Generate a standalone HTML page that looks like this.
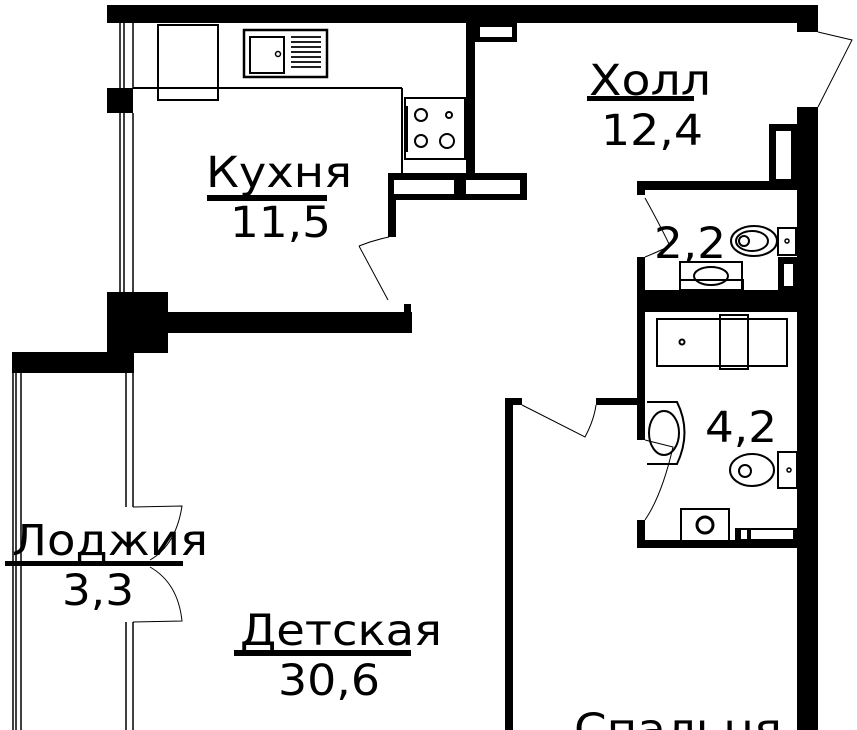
<!DOCTYPE html>
<html><head><meta charset="utf-8"><style>
html,body{margin:0;padding:0;background:#fff;width:857px;height:730px;overflow:hidden}
svg{display:block}
text{font-family:"DejaVu Sans","Liberation Sans",sans-serif;fill:#000}
</style></head><body>
<svg width="857" height="730" viewBox="0 0 857 730" xmlns="http://www.w3.org/2000/svg">
<g fill="#000">
<!-- top wall -->
<rect x="107" y="5" width="711" height="18"/>
<rect x="797" y="5" width="21" height="27"/>
<!-- kitchen left -->
<rect x="107" y="88" width="26" height="25"/>
<rect x="107" y="292" width="61" height="61"/>
<rect x="167" y="312" width="245" height="21"/>
<rect x="12" y="352" width="122" height="21"/>
<!-- kitchen right wall -->
<rect x="466" y="22" width="9" height="160"/>
<rect x="475" y="22" width="42" height="20"/>
<rect x="480" y="27" width="32" height="10" fill="#fff"/>
<rect x="388" y="173" width="139" height="27"/>
<rect x="394" y="180" width="60" height="14" fill="#fff"/>
<rect x="466" y="180" width="54" height="14" fill="#fff"/>
<rect x="388" y="200" width="8" height="37"/>
<rect x="404" y="304" width="7" height="10"/>
<!-- right wall -->
<rect x="797" y="107" width="21" height="623"/>
<rect x="769" y="124" width="28" height="66"/>
<rect x="776" y="131" width="15" height="48" fill="#fff"/>
<!-- WC -->
<rect x="637" y="181" width="160" height="9"/>
<rect x="637" y="181" width="8" height="14"/>
<rect x="637" y="257" width="8" height="55"/>
<rect x="637" y="290" width="160" height="22"/>
<rect x="778" y="257" width="19" height="33"/>
<rect x="784" y="264" width="9" height="22" fill="#fff"/>
<!-- bath -->
<rect x="637" y="312" width="8" height="128"/>
<rect x="637" y="520" width="8" height="28"/>
<rect x="637" y="540" width="160" height="8"/>
<rect x="735" y="528" width="62" height="12"/>
<rect x="741" y="530" width="6" height="9" fill="#fff"/>
<rect x="751" y="530" width="42" height="9" fill="#fff"/>
<!-- bedroom wall -->
<rect x="505" y="398" width="8" height="332"/>
<rect x="505" y="398" width="17" height="7"/>
<rect x="596" y="398" width="41" height="7"/>
</g>
<g fill="none" stroke="#000" stroke-width="1.5">
<!-- kitchen window -->
<line x1="120" y1="23" x2="120" y2="88"/><line x1="124" y1="23" x2="124" y2="88"/><line x1="133" y1="23" x2="133" y2="88"/>
<line x1="120" y1="113" x2="120" y2="292"/><line x1="124" y1="113" x2="124" y2="292"/><line x1="133" y1="113" x2="133" y2="292"/>
<!-- counter -->
<line x1="133" y1="88" x2="402" y2="88" stroke-width="2"/>
<line x1="402" y1="88" x2="402" y2="173" stroke-width="2"/>
<rect x="158" y="25" width="60" height="75" stroke-width="2"/>
<rect x="244" y="30" width="83" height="47" stroke-width="2.5"/>
<rect x="250" y="37" width="34" height="36" stroke-width="2"/>
<g stroke-width="1.8"><line x1="291" y1="37" x2="321" y2="37"/><line x1="291" y1="42" x2="321" y2="42"/><line x1="291" y1="47" x2="321" y2="47"/><line x1="291" y1="52" x2="321" y2="52"/><line x1="291" y1="57" x2="321" y2="57"/><line x1="291" y1="62" x2="321" y2="62"/><line x1="291" y1="67" x2="321" y2="67"/></g>
<circle cx="278" cy="54" r="2.5"/>
<rect x="405" y="98" width="60" height="61" stroke-width="2"/>
<line x1="407" y1="106" x2="407" y2="152" stroke-width="2"/>
<circle cx="421" cy="115" r="6" stroke-width="2"/><circle cx="449" cy="115" r="3" stroke-width="2"/>
<circle cx="421" cy="141" r="6" stroke-width="2"/><circle cx="447" cy="141" r="7" stroke-width="2"/>
<!-- kitchen door -->
<line x1="359" y1="246" x2="388" y2="300" stroke-width="1"/>
<path d="M359 246 Q374 240 389 237" stroke-width="1"/>
<!-- entry door -->
<path d="M818 32 L852 40 L818 107" stroke-width="1"/>
<!-- loggia windows -->
<line x1="13" y1="373" x2="13" y2="730"/><line x1="16" y1="373" x2="16" y2="730"/><line x1="21" y1="373" x2="21" y2="730"/>
<line x1="126" y1="373" x2="126" y2="507"/><line x1="133" y1="373" x2="133" y2="507"/>
<line x1="126" y1="622" x2="126" y2="730"/><line x1="133" y1="622" x2="133" y2="730"/>
<path d="M133 507 L182 506 Q176 545 150 560" stroke-width="1"/>
<path d="M133 622 L182 621 Q178 583 150 567" stroke-width="1"/>
<!-- WC fixtures -->
<path d="M645 198 Q660 225 670 246 Q655 253 645 257" stroke-width="1"/>
<ellipse cx="754" cy="241" rx="23" ry="15" stroke-width="2"/><ellipse cx="752" cy="241" rx="16" ry="10" stroke-width="2"/><circle cx="744" cy="241" r="5" stroke-width="2"/>
<rect x="778" y="228" width="18" height="27" stroke-width="2"/><circle cx="787" cy="241" r="2"/>
<rect x="680" y="280" width="63" height="10" stroke-width="2"/>
<path d="M680 290 L680 262 L742 262 L742 290" stroke-width="2"/>
<ellipse cx="711" cy="276" rx="17" ry="9" stroke-width="2"/>
<!-- bath fixtures -->
<rect x="657" y="319" width="130" height="47" stroke-width="2"/>
<rect x="720" y="315" width="28" height="54" stroke-width="2"/>
<circle cx="682" cy="342" r="2.5" stroke-width="2"/>
<path d="M647 402 L677 402 Q692 432 677 464 L647 464" stroke-width="2"/>
<ellipse cx="664" cy="433" rx="15" ry="22" stroke-width="2"/>
<ellipse cx="752" cy="470" rx="22" ry="16" stroke-width="2"/><circle cx="745" cy="471" r="6" stroke-width="2"/>
<rect x="778" y="452" width="19" height="36" stroke-width="2"/><circle cx="789" cy="470" r="2"/>
<rect x="681" y="509" width="48" height="32" stroke-width="2"/>
<circle cx="705" cy="525" r="8" stroke-width="3"/>
<path d="M645 440 L673 447 Q662 495 645 520" stroke-width="1"/>
<!-- bedroom door -->
<path d="M522 405 L585 437 Q594 420 596 405" stroke-width="1"/>
</g>
<g>
<text x="589" y="95" font-size="43" textLength="122" lengthAdjust="spacingAndGlyphs">Холл</text>
<rect x="587" y="96" width="107" height="5"/>
<text x="601" y="145" font-size="43" textLength="102" lengthAdjust="spacingAndGlyphs">12,4</text>
<text x="206" y="187" font-size="43" textLength="146" lengthAdjust="spacingAndGlyphs">Кухня</text>
<rect x="207" y="195" width="120" height="6"/>
<text x="230" y="237" font-size="43" textLength="101" lengthAdjust="spacingAndGlyphs">11,5</text>
<text x="654" y="258" font-size="43" textLength="72" lengthAdjust="spacingAndGlyphs">2,2</text>
<text x="705" y="442" font-size="43" textLength="72" lengthAdjust="spacingAndGlyphs">4,2</text>
<text x="12" y="555" font-size="43" textLength="196" lengthAdjust="spacingAndGlyphs">Лоджия</text>
<rect x="5" y="561" width="178" height="5"/>
<text x="62" y="605" font-size="43" textLength="72" lengthAdjust="spacingAndGlyphs">3,3</text>
<text x="240" y="645" font-size="43" textLength="202" lengthAdjust="spacingAndGlyphs">Детская</text>
<rect x="234" y="650" width="177" height="6"/>
<text x="278" y="695" font-size="43" textLength="102" lengthAdjust="spacingAndGlyphs">30,6</text>
<text x="574" y="744" font-size="43" textLength="208" lengthAdjust="spacingAndGlyphs">Спальня</text>
</g>
</svg>
</body></html>
